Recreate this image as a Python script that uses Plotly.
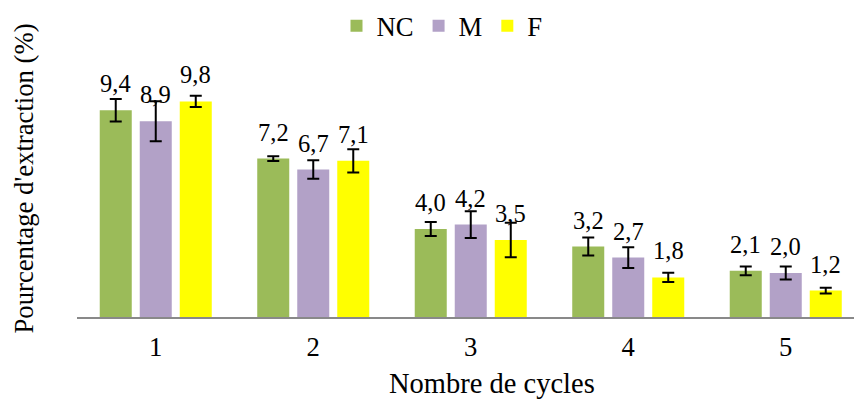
import plotly.graph_objects as go

cycles = ["1", "2", "3", "4", "5"]
series_names = ["NC", "M", "F"]
nc_values = [9.4, 7.2, 4.0, 3.2, 2.1]
m_values = [8.9, 6.7, 4.2, 2.7, 2.0]
f_values = [9.8, 7.1, 3.5, 1.8, 1.2]
nc_err = [0.51, 0.11, 0.32, 0.41, 0.20]
m_err = [0.91, 0.42, 0.61, 0.47, 0.30]
f_err = [0.26, 0.53, 0.78, 0.21, 0.13]
colors = ["#9BBB59", "#B2A1C7", "#FFFF00"]

values = [nc_values, m_values, f_values]
errors = [nc_err, m_err, f_err]

FONT = "'Liberation Serif', 'Times New Roman', 'DejaVu Serif', serif"
bargap = 0.238
slot = (1 - bargap) / 3

fig = go.Figure()
annotations = []
for k, (name, vals, errs, col) in enumerate(zip(series_names, values, errors, colors)):
    fig.add_trace(go.Bar(
        x=cycles, y=vals, name=name,
        marker=dict(color=col, line=dict(width=0)),
        error_y=dict(type="data", array=errs, visible=True,
                     color="black", thickness=2, width=6),
    ))
    for i, v in enumerate(vals):
        annotations.append(dict(
            x=i + (k - 1) * slot, y=v, xref="x", yref="y",
            text=f"{v:.1f}".replace(".", ","),
            showarrow=False, yanchor="bottom", xanchor="center", yshift=11,
            font=dict(family=FONT, size=24.5, color="black"),
        ))

annotations.append(dict(
    x=(492 - 77) / 777, y=(317 - 384) / 277, xref="paper", yref="paper",
    text="Nombre de cycles", showarrow=False, xanchor="center", yanchor="middle",
    font=dict(family=FONT, size=28.5, color="black"),
))
annotations.append(dict(
    x=(23 - 77) / 777, y=0.5, xref="paper", yref="paper",
    text="Pourcentage d'extraction (%)", showarrow=False, textangle=-90,
    xanchor="center", yanchor="middle",
    font=dict(family=FONT, size=26.7, color="black"),
))

fig.update_layout(
    width=854, height=399,
    margin=dict(l=77, r=0, t=40, b=82, autoexpand=False),
    paper_bgcolor="white", plot_bgcolor="white",
    barmode="group", bargap=bargap, bargroupgap=0.2,
    font=dict(family=FONT, size=26.7, color="black"),
    showlegend=True,
    legend=dict(orientation="h", x=(442 - 77) / 777, xanchor="center",
                y=(317 - 26) / 277, yanchor="middle",
                font=dict(family=FONT, size=26.7, color="black"),
                itemwidth=30, bgcolor="rgba(0,0,0,0)"),
    xaxis=dict(type="category", range=[-0.5, -0.5 + 777 / 157.5],
               showline=True, linecolor="#898989", linewidth=1.5,
               ticks="outside", ticklen=5, tickcolor="rgba(0,0,0,0)",
               showgrid=False, zeroline=False,
               tickfont=dict(family=FONT, size=26.7, color="black")),
    yaxis=dict(range=[0, 277 / 22.0], visible=False, showgrid=False, zeroline=False),
    annotations=annotations,
)

fig.write_html("out.html", config={"displayModeBar": False},
               post_script="document.body.style.margin='0';document.body.style.overflow='hidden';")
